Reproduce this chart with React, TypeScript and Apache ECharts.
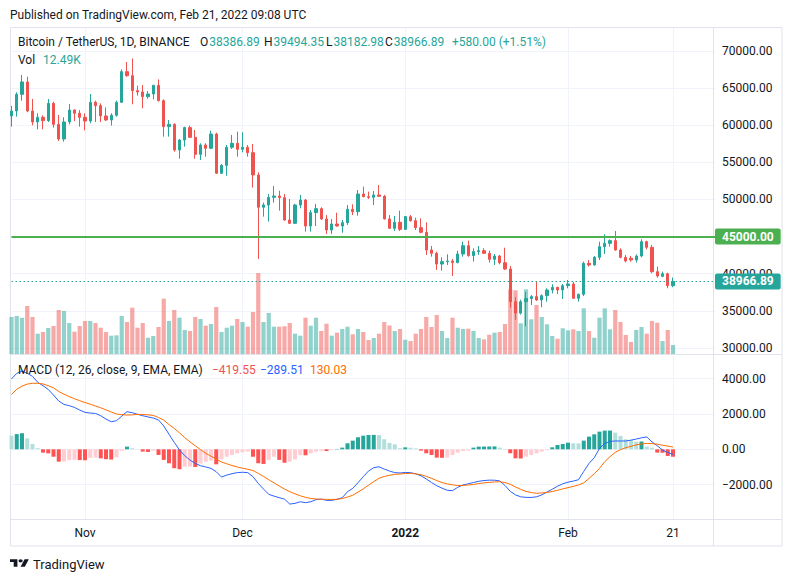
import React, { useEffect, useRef } from 'react';
import * as echarts from 'echarts';

// ---------- data ----------
const startDate = '2021-10-18';
const futureSlots = 8;

// [open, high, low, close] per day, BTC/USDT 1D
const ohlc: [number, number, number, number][] = [
  [61250, 62600, 59810, 61920], [61920, 64430, 61160, 64160], [64160, 66770, 63310, 65830], [65830, 66540, 61750, 61920],
  [61920, 63540, 59990, 60440], [60440, 61610, 59450, 61070], [61070, 61340, 59450, 60620], [60620, 63540, 60440, 62950],
  [62950, 63180, 59680, 60120], [60120, 61380, 57880, 58150], [58150, 61070, 57790, 60440], [60440, 62860, 60120, 62050],
  [62050, 62140, 60570, 61610], [61610, 62050, 59810, 61070], [61070, 61610, 59320, 60570], [60570, 64210, 60260, 63090],
  [63090, 63310, 60440, 62640], [62640, 62950, 60440, 61250], [61250, 62410, 60570, 60710], [60710, 61610, 59950, 61340],
  [61340, 63310, 61160, 63090], [63090, 67530, 63000, 67220], [67220, 68520, 66540, 66680], [66680, 69000, 62820, 64660],
  [64660, 65330, 63990, 64480], [64480, 65420, 62280, 63850], [63850, 64610, 63580, 64210], [64210, 65420, 63490, 65380],
  [65380, 66180, 63200, 63310], [63310, 63490, 58460, 59810], [59810, 60710, 58460, 60120], [60120, 60260, 56440, 56670],
  [56670, 58150, 55500, 58010], [58010, 59810, 57120, 59680], [59680, 59950, 58300, 58370], [58370, 59360, 55500, 56080],
  [56080, 57570, 55320, 57340], [57340, 57570, 55770, 56890], [56890, 59270, 56800, 58820], [58820, 59000, 53440, 53530],
  [53530, 54780, 53440, 54600], [54600, 57340, 53210, 57030], [57030, 58690, 56800, 57570], [57570, 59140, 55770, 56760],
  [56760, 59050, 56350, 57030], [57030, 57340, 55770, 56310], [56310, 57480, 51600, 53300], [53300, 53660, 42000, 48950],
  [48950, 49580, 47690, 49260], [49260, 50740, 47020, 50290], [50290, 51820, 49580, 50470], [50470, 51190, 48500, 50250],
  [50250, 50740, 47150, 47240], [47240, 50070, 46700, 46790], [46790, 49400, 46700, 49260], [49260, 50610, 48810, 49930],
  [49930, 50070, 45670, 46430], [46430, 48590, 45670, 48230], [48230, 49400, 46430, 48770], [48770, 48950, 47250, 47370],
  [47370, 47910, 45360, 45890], [45890, 47370, 45360, 46700], [46700, 48230, 46340, 46430], [46430, 47240, 45530, 46880],
  [46880, 49260, 46570, 48680], [48680, 49350, 47910, 48360], [48360, 51280, 47820, 50740], [50740, 51730, 50290, 50380],
  [50380, 51060, 50070, 50290], [50290, 51150, 49260, 50610], [50610, 51950, 50350, 50430], [50430, 50610, 47310, 47380],
  [47380, 47910, 46030, 46120], [46120, 47780, 45760, 46930], [46930, 48500, 45760, 45980], [45980, 47780, 45890, 47690],
  [47690, 47910, 47020, 47150], [47150, 47550, 45890, 46210], [46210, 47460, 45450, 45580], [45580, 46930, 42530, 43200],
  [43200, 43740, 42300, 42750], [42750, 42980, 40510, 41310], [41310, 42210, 40420, 41630], [41630, 42620, 41180, 41720],
  [41720, 42000, 39700, 41500], [41500, 43110, 41400, 42660], [42660, 44320, 42300, 43780], [43780, 44460, 42300, 42440],
  [42440, 43430, 41630, 42980], [42980, 43740, 42530, 43110], [43110, 43430, 42660, 42750], [42750, 43100, 41490, 41940],
  [41940, 42660, 41180, 42390], [42390, 42530, 41270, 41490], [41490, 43510, 40500, 40640], [40640, 41050, 35440, 36240],
  [36240, 36840, 33800, 34700], [34700, 36500, 34500, 36240], [36240, 37550, 32920, 36660], [36660, 37140, 35790, 36920],
  [36920, 38930, 36330, 36470], [36470, 37230, 35480, 37050], [37050, 38040, 36240, 37810], [37810, 38580, 37360, 38170],
  [38170, 38260, 37280, 37810], [37810, 38620, 36600, 38400], [38400, 39160, 38040, 38620], [38620, 38900, 36600, 36690],
  [36690, 37320, 36240, 37230], [37230, 41630, 37000, 41400], [41400, 41850, 40960, 41180], [41180, 42390, 41090, 42210],
  [42210, 44320, 41850, 43650], [43650, 45310, 42660, 44100], [44100, 44640, 43650, 44460], [44460, 45760, 43110, 43200],
  [43200, 43420, 42080, 42210], [42210, 42530, 41540, 41720], [42100, 42390, 41630, 41850], [41850, 42600, 41500, 42390],
  [42390, 44640, 42210, 44320], [44320, 44460, 43290, 43560], [43560, 43870, 40060, 40280], [40280, 40960, 39470, 39700],
  [39650, 40280, 39520, 40000], [40000, 40150, 38040, 38386.89], [38386.89, 39494.35, 38182.98, 38966.89],
];

// volume in thousands of BTC
const volumeK: number[] = [
  51.4, 52.7, 50.4, 66.6, 51.4, 28.2, 30.5, 36.1, 38.9, 61.1,
  59.7, 43.0, 31.0, 38.9, 45.8, 45.8, 43.0, 36.5, 30.5, 25.4,
  25.9, 52.7, 44.4, 64.3, 36.5, 43.0, 22.6, 25.0, 37.5, 76.8,
  45.8, 61.1, 50.4, 33.3, 31.9, 51.4, 48.6, 39.3, 41.6, 65.2,
  30.5, 36.5, 39.3, 48.6, 44.4, 37.9, 58.3, 112.4, 44.4, 56.9,
  37.9, 37.9, 38.5, 43.0, 28.2, 25.4, 50.4, 39.3, 50.4, 31.9,
  42.1, 25.4, 29.6, 34.7, 37.9, 27.3, 34.7, 30.5, 19.4, 22.2,
  28.2, 44.4, 39.6, 31.9, 34.7, 19.8, 18.0, 28.2, 34.7, 51.4,
  37.5, 54.1, 31.9, 22.2, 50.4, 36.5, 34.7, 35.1, 31.9, 22.2,
  20.4, 26.8, 29.6, 30.5, 41.6, 89.8, 88.4, 42.6, 89.8, 48.2,
  68.0, 51.4, 41.2, 25.0, 21.2, 35.7, 32.9, 34.3, 31.9, 63.4,
  31.9, 22.6, 50.4, 63.4, 34.3, 61.1, 44.4, 26.4, 16.7, 33.3,
  37.5, 28.2, 45.8, 43.4, 18.0, 33.3, 12.49,
];

const macdHist: number[] = [
  770, 860, 910, 620, 300, 60, -190, -230, -420, -700,
  -690, -610, -600, -610, -620, -480, -470, -510, -560, -580,
  -450, -80, 150, 60, 10, -130, -150, -80, -320, -600,
  -790, -1070, -1130, -985, -975, -1000, -800, -700, -640, -850,
  -570, -420, -320, -230, -170, -130, -420, -790, -830, -600,
  -420, -600, -760, -700, -570, -330, -340, -230, -130, -95,
  -100, -40, 20, 95, 340, 490, 680, 770, 810, 815,
  805, 570, 360, 280, 60, 110, 90, 50, -75, -226,
  -321, -472, -480, -470, -321, -189, -94, -70, 94, 151,
  155, 160, 165, 94, 19, -226, -510, -520, -415, -321,
  -226, -132, -38, 113, 245, 302, 377, 340, 335, 491,
  717, 849, 1000, 1057, 1060, 943, 755, 566, 528, 434,
  440, 151, 94, -189, -195, -377, -419.55,
];

const macdLine: number[] = [
  3980, 4300, 4430, 4300, 4130, 3790, 3600, 3390, 3070, 2730,
  2540, 2470, 2370, 2220, 2090, 2050, 2030, 1900, 1710, 1560,
  1620, 1880, 2130, 2070, 1980, 1900, 1830, 1770, 1660, 1320,
  850, 390, -40, -360, -610, -800, -930, -1000, -1080, -1270,
  -1570, -1460, -1380, -1320, -1300, -1320, -1550, -1930, -2250, -2550,
  -2650, -2740, -2820, -3100, -3060, -2970, -3020, -2970, -2850, -2820,
  -2890, -2890, -2830, -2740, -2400, -2210, -1890, -1550, -1230, -1040,
  -990, -1120, -1230, -1320, -1340, -1310, -1320, -1390, -1500, -1680,
  -1880, -2060, -2200, -2320, -2340, -2150, -2020, -1950, -1880, -1810,
  -1770, -1745, -1750, -1790, -2050, -2380, -2580, -2690, -2720, -2725,
  -2690, -2580, -2420, -2260, -2090, -1950, -1860, -1800, -1720, -1250,
  -800, -480, 50, 330, 450, 470, 470, 470, 520, 580,
  650, 700, 420, 200, -40, -180, -289.51,
];

const signalLine: number[] = [
  3100, 3400, 3580, 3690, 3735, 3735, 3700, 3600, 3480, 3270,
  3120, 2980, 2860, 2750, 2650, 2550, 2450, 2350, 2230, 2110,
  2000, 1960, 1940, 1950, 1975, 1970, 1950, 1920, 1800, 1650,
  1400, 1180, 930, 660, 420, 200, -20, -230, -390, -550,
  -720, -820, -920, -1000, -1070, -1130, -1200, -1360, -1540, -1720,
  -1900, -2080, -2250, -2400, -2520, -2630, -2720, -2780, -2815, -2830,
  -2835, -2840, -2830, -2790, -2700, -2600, -2420, -2240, -2030, -1830,
  -1640, -1540, -1470, -1420, -1400, -1370, -1360, -1390, -1440, -1530,
  -1640, -1770, -1880, -1960, -2010, -2050, -2045, -2020, -1990, -1940,
  -1900, -1870, -1850, -1835, -1880, -1980, -2130, -2270, -2380, -2450,
  -2490, -2470, -2440, -2390, -2320, -2240, -2170, -2100, -2020, -1900,
  -1650, -1380, -1080, -700, -420, -170, -20, 90, 170, 250,
  300, 335, 320, 290, 230, 180, 130.03,
];

const timeLabels: Record<string, string> = {
  '2021-11-01': 'Nov',
  '2021-12-01': 'Dec',
  '2022-01-01': '2022',
  '2022-02-01': 'Feb',
  '2022-02-21': '21',
};
const yearLabelDate = '2022-01-01';
const levelPrice = 45000;

// ---------- helpers ----------
function buildDates(start: string, n: number): string[] {
  const out: string[] = [];
  const d = new Date(start + 'T00:00:00Z');
  for (let i = 0; i < n; i++) {
    out.push(d.toISOString().slice(0, 10));
    d.setUTCDate(d.getUTCDate() + 1);
  }
  return out;
}
const dates = buildDates(startDate, ohlc.length + futureSlots);

const UP = '#26a69a';
const DOWN = '#ef5350';
const DARK = '#131722';
const GRID = '#f0f3fa';
const BORDER = '#e0e3eb';
const FONT = 'Roboto';

const fmtSigned = (v: number) => (v < 0 ? '\u2212' + Math.abs(v).toFixed(2) : v.toFixed(2));

echarts.graphic.registerShape(
  'tvlogo',
  echarts.graphic.extendPath('M14 22H7V11H0V4h14v18zM28 22h-8l7.5-18h8L28 22zM24 8a4 4 0 1 1-8 0a4 4 0 1 1 8 0z', {})
);

function buildOption() {
  const last = ohlc[ohlc.length - 1];
  const prev = ohlc[ohlc.length - 2];
  const change = last[3] - prev[3];
  const changePct = (change / prev[3]) * 100;
  const lastClose = last[3];
  const lastVol = volumeK[volumeK.length - 1];

  const candleData = ohlc.map(([o, h, l, c]) => [o, c, l, h]);
  const volData = volumeK.map((v, i) => ({
    value: v,
    itemStyle: { color: ohlc[i][3] >= ohlc[i][0] ? 'rgba(38,166,154,0.5)' : 'rgba(239,83,80,0.5)' },
  }));
  const histData = macdHist.map((v, i) => {
    const p = i > 0 ? macdHist[i - 1] : v;
    let color: string;
    if (v >= 0) color = i > 0 && v > p ? '#26a69a' : '#b2dfdb';
    else color = i > 0 && v > p ? '#ffcdd2' : '#ff5252';
    return { value: v, itemStyle: { color } };
  });

  const isLabel = (_i: number, v: string) => !!timeLabels[v];

  const xBase: any = {
    type: 'category',
    data: dates,
    boundaryGap: false,
    axisLine: { show: false },
    axisTick: { show: false },
    splitLine: { show: true, interval: isLabel, lineStyle: { color: GRID, width: 1 } },
  };

  const yLabel = {
    align: 'left',
    margin: 7,
    color: DARK,
    fontSize: 12,
    fontFamily: FONT,
    showMinLabel: false,
    showMaxLabel: false,
    formatter: (v: number) => fmtSigned(v),
  };

  const txt = (x: number, y: number, text: string, fill: string, size = 12, rich?: any) => ({
    type: 'text',
    x,
    y,
    silent: true,
    z: 20,
    style: {
      text,
      fill,
      fontSize: size,
      fontFamily: FONT,
      verticalAlign: 'middle',
      align: 'left',
      ...(rich ? { rich } : {}),
    },
  });
  const ohlcRich = {
    d: { fill: DARK, fontSize: 12, fontFamily: FONT },
    g: { fill: UP, fontSize: 12, fontFamily: FONT, padding: [0, 0, 0, 1] },
  };
  const pair = (x: number, letter: string, value: number) =>
    txt(x, 42, '{d|' + letter + '}{g|' + value.toFixed(2) + '}', DARK, 12, ohlcRich);
  const line = (x1: number, y1: number, x2: number, y2: number) => ({
    type: 'line',
    silent: true,
    z: 1,
    shape: { x1, y1, x2, y2 },
    style: { stroke: BORDER, lineWidth: 1 },
  });

  const boxLabel = (bg: string) => ({
    show: true,
    position: 'end',
    distance: 0,
    formatter: (p: any) => Number(p.value).toFixed(2),
    color: '#ffffff',
    backgroundColor: bg,
    padding: [2, 7, 1, 7],
    lineHeight: 13,
    borderRadius: 2,
    fontSize: 12,
    fontWeight: 'bold',
    fontFamily: FONT,
  });

  return {
    animation: false,
    backgroundColor: '#ffffff',
    grid: [
      { left: 11.5, right: 78, top: 27, height: 327, outerBoundsMode: 'none' },
      { left: 11.5, right: 78, top: 354, height: 165, outerBoundsMode: 'none' },
    ],
    xAxis: [
      { ...xBase, gridIndex: 0, axisLabel: { show: false } },
      {
        ...xBase,
        gridIndex: 1,
        axisLabel: {
          show: true,
          interval: isLabel,
          margin: 8,
          color: DARK,
          fontSize: 12,
          fontFamily: FONT,
          hideOverlap: false,
          formatter: (v: string) => (v === yearLabelDate ? '{b|' + timeLabels[v] + '}' : timeLabels[v] || ''),
          rich: { b: { fontWeight: 'bold', fontSize: 12, color: DARK, fontFamily: FONT } },
        },
      },
    ],
    yAxis: [
      {
        type: 'value',
        gridIndex: 0,
        position: 'right',
        min: 29192,
        max: 73232,
        splitNumber: 9,
        minInterval: 5000,
        maxInterval: 5000,
        axisLine: { show: false },
        axisTick: { show: false },
        axisLabel: yLabel,
        splitLine: { show: true, lineStyle: { color: GRID, width: 1 } },
      },
      {
        type: 'value',
        gridIndex: 0,
        min: 0,
        max: 454,
        show: false,
        splitLine: { show: false },
      },
      {
        type: 'value',
        gridIndex: 1,
        position: 'right',
        min: -3945,
        max: 5394,
        splitNumber: 5,
        minInterval: 2000,
        maxInterval: 2000,
        axisLine: { show: false },
        axisTick: { show: false },
        axisLabel: yLabel,
        splitLine: { show: true, lineStyle: { color: GRID, width: 1 } },
      },
    ],
    series: [
      {
        name: 'Volume',
        type: 'bar',
        xAxisIndex: 0,
        yAxisIndex: 1,
        data: volData,
        barWidth: 4.2,
        clip: false,
        silent: true,
        z: 1,
      },
      {
        name: 'BTCUSDT',
        type: 'candlestick',
        xAxisIndex: 0,
        yAxisIndex: 0,
        data: candleData,
        barWidth: 2.6,
        clip: false,
        silent: true,
        z: 3,
        itemStyle: { color: UP, color0: DOWN, borderColor: UP, borderColor0: DOWN, borderWidth: 1 },
        markLine: {
          symbol: ['none', 'none'],
          silent: true,
          animation: false,
          data: [
            { yAxis: levelPrice, lineStyle: { color: '#4caf50', width: 2, type: 'solid' }, label: boxLabel('#4caf50') },
          ],
        },
      },
      {
        name: 'Last price',
        type: 'line',
        xAxisIndex: 0,
        yAxisIndex: 0,
        data: [],
        color: UP,
        symbol: 'none',
        silent: true,
        z: 4,
        lineStyle: { color: UP },
        itemStyle: { color: UP },
        markLine: {
          symbol: ['none', 'none'],
          silent: true,
          animation: false,
          lineStyle: { color: UP, width: 1, type: [1.5, 2.5], opacity: 1 },
          data: [
            {
              yAxis: lastClose,
              lineStyle: { color: UP, width: 1, type: [1.5, 2.5], opacity: 1 },
              label: boxLabel(UP),
            },
          ],
        },
      },
      {
        name: 'Histogram',
        type: 'bar',
        xAxisIndex: 1,
        yAxisIndex: 2,
        data: histData,
        barWidth: 4,
        clip: false,
        silent: true,
        z: 2,
      },
      {
        name: 'MACD',
        type: 'line',
        xAxisIndex: 1,
        yAxisIndex: 2,
        data: macdLine,
        symbol: 'none',
        showSymbol: false,
        silent: true,
        z: 3,
        lineStyle: { color: '#2962ff', width: 1 },
      },
      {
        name: 'Signal',
        type: 'line',
        xAxisIndex: 1,
        yAxisIndex: 2,
        data: signalLine,
        symbol: 'none',
        showSymbol: false,
        silent: true,
        z: 3,
        lineStyle: { color: '#ff6d00', width: 1 },
      },
    ],
    graphic: {
      elements: [
        {
          type: 'rect',
          silent: true,
          z: 1,
          shape: { x: 10.5, y: 27.5, width: 771.5, height: 518.5 },
          style: { fill: 'none', stroke: BORDER, lineWidth: 1 },
        },
        line(713.5, 27, 713.5, 546),
        line(10, 354.5, 782, 354.5),
        line(10, 519.5, 782, 519.5),
        txt(10, 15, 'Published on TradingView.com, Feb 21, 2022 09:08 UTC', DARK),
        txt(18, 42, 'Bitcoin / TetherUS, 1D, BINANCE', DARK),
        pair(200, 'O', last[0]),
        pair(264, 'H', last[1]),
        pair(326, 'L', last[2]),
        pair(385, 'C', last[3]),
        txt(452, 42, '+' + change.toFixed(2) + ' (+' + changePct.toFixed(2) + '%)', UP),
        txt(18, 60, 'Vol', DARK),
        txt(43, 60, lastVol.toFixed(2) + 'K', UP),
        txt(18, 370, 'MACD (12, 26, close, 9, EMA, EMA)', DARK),
        txt(212, 370, fmtSigned(macdHist[macdHist.length - 1]), '#ef5350'),
        txt(260, 370, fmtSigned(macdLine[macdLine.length - 1]), '#2962ff'),
        txt(310, 370, fmtSigned(signalLine[signalLine.length - 1]), '#ff6d00'),
        {
          type: 'tvlogo',
          x: 10,
          y: 557.5,
          scaleX: 0.53,
          scaleY: 0.42,
          silent: true,
          z: 20,
          style: { fill: DARK },
        },
        txt(33, 564, 'TradingView', DARK, 13),
      ],
    },
  };
}

export default function App() {
  const ref = useRef<HTMLDivElement>(null);
  useEffect(() => {
    if (!ref.current) return;
    const chart = echarts.init(ref.current, undefined, { renderer: 'svg' });
    chart.setOption(buildOption() as any);
    return () => {
      chart.dispose();
    };
  }, []);
  return (
    <div
      ref={ref}
      style={{ position: 'fixed', left: 0, top: 0, width: 793, height: 582, background: '#ffffff' }}
    />
  );
}
